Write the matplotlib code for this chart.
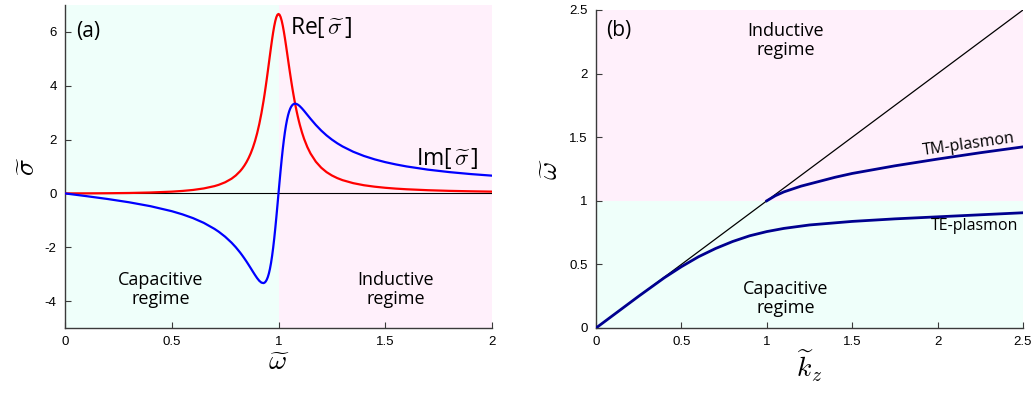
import matplotlib
matplotlib.use("Agg")
import matplotlib.pyplot as plt

# ---- panel (a): normalized conductivity vs normalized frequency ----
omega = [0.0, 0.1, 0.2, 0.3, 0.4, 0.5, 0.55, 0.6, 0.65, 0.7, 0.72, 0.75, 0.78,
         0.8, 0.82, 0.83, 0.84, 0.85, 0.86, 0.87, 0.88, 0.89, 0.9, 0.91, 0.92,
         0.93, 0.935, 0.94, 0.945, 0.95, 0.955, 0.96, 0.965, 0.97, 0.975, 0.98,
         0.985, 0.99, 0.995, 1.0, 1.005, 1.01, 1.015, 1.02, 1.025, 1.03, 1.035,
         1.04, 1.045, 1.05, 1.055, 1.06, 1.065, 1.07, 1.075, 1.08, 1.085, 1.09,
         1.095, 1.1, 1.11, 1.12, 1.135, 1.15, 1.175, 1.2, 1.225, 1.25, 1.275,
         1.3, 1.35, 1.4, 1.45, 1.5, 1.55, 1.6, 1.7, 1.8, 1.9, 2.0]
re_sigma = [0.0, 0.002, 0.007, 0.016, 0.034, 0.066, 0.092, 0.129, 0.185, 0.271,
            0.319, 0.413, 0.546, 0.667, 0.824, 0.92, 1.032, 1.162, 1.314, 1.491,
            1.70, 1.946, 2.237, 2.578, 2.978, 3.44, 3.695, 3.965, 4.248, 4.541,
            4.841, 5.142, 5.439, 5.723, 5.985, 6.215, 6.406, 6.549, 6.637, 6.667,
            6.637, 6.551, 6.414, 6.232, 6.015, 5.77, 5.507, 5.234, 4.958, 4.683,
            4.415, 4.156, 3.908, 3.673, 3.452, 3.244, 3.05, 2.869, 2.701, 2.545,
            2.265, 2.024, 1.724, 1.483, 1.177, 0.956, 0.791, 0.667, 0.57, 0.493,
            0.381, 0.304, 0.25, 0.209, 0.178, 0.154, 0.119, 0.095, 0.079, 0.066]
im_sigma = [0.0, -0.101, -0.208, -0.329, -0.474, -0.66, -0.778, -0.919, -1.094,
            -1.317, -1.423, -1.608, -1.829, -2.0, -2.194, -2.30, -2.412, -2.529,
            -2.652, -2.778, -2.906, -3.031, -3.148, -3.247, -3.314, -3.332,
            -3.314, -3.273, -3.205, -3.107, -2.973, -2.80, -2.584, -2.324, -2.02,
            -1.674, -1.291, -0.878, -0.444, 0.0, 0.441, 0.869, 1.273, 1.646,
            1.98, 2.274, 2.527, 2.738, 2.911, 3.048, 3.153, 3.23, 3.283, 3.316,
            3.331, 3.332, 3.321, 3.301, 3.273, 3.239, 3.158, 3.066, 2.919, 2.773,
            2.542, 2.336, 2.156, 2.0, 1.864, 1.745, 1.548, 1.392, 1.266, 1.162,
            1.076, 1.002, 0.883, 0.792, 0.719, 0.66]

# ---- panel (b): plasmon dispersion ----
kz_light = [0.0, 2.5]
w_light = [0.0, 2.5]
kz_te = [0.0, 0.25, 0.4, 0.5, 0.6, 0.7, 0.8, 0.9, 1.0, 1.1, 1.25, 1.5, 1.75,
         2.0, 2.25, 2.5]
w_te = [0.0, 0.25, 0.395, 0.482, 0.56, 0.625, 0.68, 0.725, 0.758, 0.783, 0.81,
        0.838, 0.858, 0.874, 0.89, 0.906]
kz_tm = [1.0, 1.05, 1.1, 1.2, 1.3, 1.4, 1.5, 1.75, 2.0, 2.25, 2.5]
w_tm = [1.0, 1.04, 1.07, 1.115, 1.15, 1.185, 1.215, 1.275, 1.328, 1.378, 1.424]

CAP = "#effffa"
IND = "#fff0fb"
SPINE = "#3a3a3a"
TEXTFONT = ["Open Sans", "DejaVu Sans"]
TICKFONT = ["Liberation Sans", "DejaVu Sans"]

plt.rcParams["mathtext.fontset"] = "cm"

fig = plt.figure(figsize=(10.35, 3.94), dpi=100)
ax1 = fig.add_axes([65 / 1035, 1 - 328 / 394, 427 / 1035, 323 / 394])
ax2 = fig.add_axes([596 / 1035, 1 - 328 / 394, 427 / 1035, 318 / 394])


def style(ax):
    for s in ("top", "right"):
        ax.spines[s].set_visible(False)
    for s in ("left", "bottom"):
        ax.spines[s].set_color(SPINE)
        ax.spines[s].set_linewidth(1.0)
    ax.tick_params(direction="in", length=4, width=0.8, color=SPINE,
                   labelsize=9.5, pad=6)
    for lab in ax.get_xticklabels() + ax.get_yticklabels():
        lab.set_family(TICKFONT)


# panel (a)
ax1.set_xlim(0, 2)
ax1.set_ylim(-5, 7)
ax1.axvspan(0, 1, color=CAP, lw=0, zorder=0)
ax1.axvspan(1, 2, color=IND, lw=0, zorder=0)
ax1.axhline(0, color="black", lw=0.8, zorder=1)
ax1.plot(omega, re_sigma, color="#ff0000", lw=1.6, zorder=3)
ax1.plot(omega, im_sigma, color="#0000ff", lw=1.6, zorder=3)
ax1.set_xticks([0, 0.5, 1, 1.5, 2])
ax1.set_xticklabels(["0", "0.5", "1", "1.5", "2"])
ax1.set_yticks([-4, -2, 0, 2, 4, 6])
ax1.set_yticklabels(["-4", "-2", "0", "2", "4", "6"])
style(ax1)
ax1.set_xlabel(r"$\widetilde{\omega}$", fontsize=20, labelpad=0)
ax1.set_ylabel(r"$\widetilde{\sigma}$", fontsize=20, labelpad=3)
ax1.text(0.05, 6.0, "(a)", fontsize=15, family=TEXTFONT, va="center")
ax1.text(1.055, 6.15, r"Re[$\,\widetilde{\sigma}\,$]", fontsize=16.5,
         family=TEXTFONT, va="center")
ax1.text(1.645, 1.3, r"Im[$\,\widetilde{\sigma}\,$]", fontsize=16.5,
         family=TEXTFONT, va="center")
ax1.text(0.45, -3.57, "Capacitive\nregime", fontsize=13, family=TEXTFONT,
         ha="center", va="center", linespacing=1.05)
ax1.text(1.55, -3.57, "Inductive\nregime", fontsize=13, family=TEXTFONT,
         ha="center", va="center", linespacing=1.05)

# panel (b)
ax2.set_xlim(0, 2.5)
ax2.set_ylim(0, 2.5)
ax2.axhspan(0, 1, color=CAP, lw=0, zorder=0)
ax2.axhspan(1, 2.5, color=IND, lw=0, zorder=0)
ax2.plot(kz_light, w_light, color="black", lw=0.9, zorder=2)
ax2.plot(kz_te, w_te, color="#00008f", lw=2.0, zorder=3)
ax2.plot(kz_tm, w_tm, color="#00008f", lw=2.0, zorder=3)
ax2.set_xticks([0, 0.5, 1, 1.5, 2, 2.5])
ax2.set_xticklabels(["0", "0.5", "1", "1.5", "2", "2.5"])
ax2.set_yticks([0, 0.5, 1, 1.5, 2, 2.5])
ax2.set_yticklabels(["0", "0.5", "1", "1.5", "2", "2.5"])
style(ax2)
ax2.set_xlabel(r"$\widetilde{k}_z$", fontsize=20, labelpad=0)
ax2.set_ylabel(r"$\widetilde{\omega}$", fontsize=20, labelpad=4)
ax2.text(0.06, 2.34, "(b)", fontsize=15, family=TEXTFONT, va="center")
ax2.text(1.11, 2.26, "Inductive\nregime", fontsize=13, family=TEXTFONT,
         ha="center", va="center", linespacing=1.05)
ax2.text(1.11, 0.23, "Capacitive\nregime", fontsize=13, family=TEXTFONT,
         ha="center", va="center", linespacing=1.05)
ax2.text(2.18, 1.445, "TM-plasmon", fontsize=11.5, family=TEXTFONT,
         ha="center", va="center", rotation=8)
ax2.text(2.214, 0.77, "TE-plasmon", fontsize=11.5, family=TEXTFONT,
         ha="center", va="baseline")

fig.savefig("out.png", dpi=100)
